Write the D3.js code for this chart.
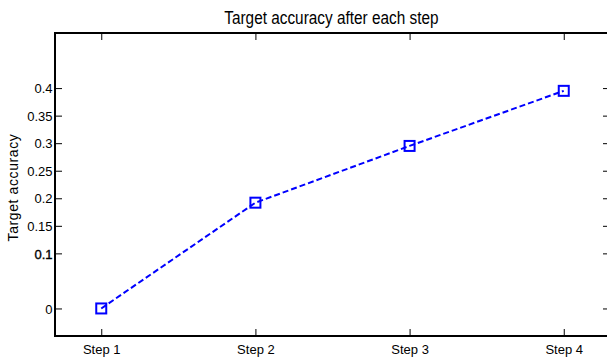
<!DOCTYPE html>
<html><head><meta charset="utf-8">
<script src="https://cdn.jsdelivr.net/npm/d3@7"></script>
<style>
html,body{margin:0;padding:0;background:#fff;}
svg{display:block;font-family:"Liberation Sans",Arial,Helvetica,sans-serif;}
</style></head>
<body><svg id="chart" width="607" height="361"></svg>
<script>
const categories = ["Step 1", "Step 2", "Step 3", "Step 4"];
const accuracy = [0.0, 0.192, 0.295, 0.395];
const yTicks = [0, 0.1, 0.15, 0.2, 0.25, 0.3, 0.35, 0.4];
const yTickLabels = ["0", "0.1", "0.15", "0.2", "0.25", "0.3", "0.35", "0.4"];
const titleText = "Target accuracy after each step";
const yLabelText = "Target accuracy";

(function () {
const svg = d3.select("#chart");
const mLeft = 55, mRight = 610, mTop = 33, mBottom = 336;
const x = d3.scaleLinear().domain([0.7, 4.3]).range([mLeft, mRight]);
const y = d3.scaleLinear().domain([-0.05, 0.5]).range([mBottom, mTop]);
const xs = categories.map((c, i) => i + 1);

const tickLen = 7;
const xAxisB = d3.axisBottom(x).tickValues(xs).tickFormat((d, i) => categories[i]).tickSizeInner(-tickLen).tickSizeOuter(0);
const gxb = svg.append("g").attr("transform", `translate(0,${mBottom})`).call(xAxisB);
const xAxisT = d3.axisTop(x).tickValues(xs).tickFormat("").tickSizeInner(-tickLen).tickSizeOuter(0);
const gxt = svg.append("g").attr("transform", `translate(0,${mTop})`).call(xAxisT);
const yAxisL = d3.axisLeft(y).tickValues(yTicks).tickFormat((d, i) => yTickLabels[i]).tickSizeInner(-tickLen).tickSizeOuter(0).tickPadding(2.5);
const gyl = svg.append("g").attr("transform", `translate(${mLeft},0)`).call(yAxisL);
const yAxisR = d3.axisRight(y).tickValues(yTicks).tickFormat("").tickSizeInner(-tickLen).tickSizeOuter(0);
const gyr = svg.append("g").attr("transform", `translate(${mRight},0)`).call(yAxisR);

[gxb, gxt, gyl, gyr].forEach(g => {
  g.select(".domain").remove();
  g.selectAll(".tick line").attr("stroke", "#000").attr("stroke-width", 1);
  g.selectAll(".tick text").attr("font-size", 13).attr("fill", "#000")
   .attr("font-family", "'Liberation Sans',Arial,sans-serif");
});
gxb.selectAll(".tick text").attr("y", 18.3).attr("dy", "0");
gyl.selectAll(".tick text").attr("dy", "0.36em");
gyl.selectAll(".tick text").filter(d => d === 0.1).attr("stroke", "#000").attr("stroke-width", 0.35);

svg.append("rect").attr("x", mLeft).attr("y", mTop).attr("width", mRight - mLeft).attr("height", mBottom - mTop)
  .attr("fill", "none").attr("stroke", "#000").attr("stroke-width", 2);

const line = d3.line().x((d, i) => x(xs[i])).y(d => y(d));
svg.append("path").datum(accuracy).attr("d", line).attr("fill", "none")
  .attr("stroke", "#0000ff").attr("stroke-width", 2).attr("stroke-dasharray", "6,3");

const ms = 10;
svg.selectAll("rect.mk").data(accuracy).enter().append("rect").attr("class", "mk")
  .attr("x", (d, i) => x(xs[i]) - ms / 2).attr("y", d => y(d) - ms / 2)
  .attr("width", ms).attr("height", ms).attr("fill", "none")
  .attr("stroke", "#0000ff").attr("stroke-width", 2);

svg.append("text").attr("transform", "translate(331.4,24) scale(0.83,1)").attr("text-anchor", "middle")
  .attr("font-size", 18.5).attr("fill", "#000").text(titleText);
svg.append("text").attr("transform", `translate(18.3,187.5) rotate(-90)`)
  .attr("text-anchor", "middle").attr("font-size", 14).attr("letter-spacing", 0.6)
  .attr("fill", "#000").text(yLabelText);
})();
</script></body></html>
